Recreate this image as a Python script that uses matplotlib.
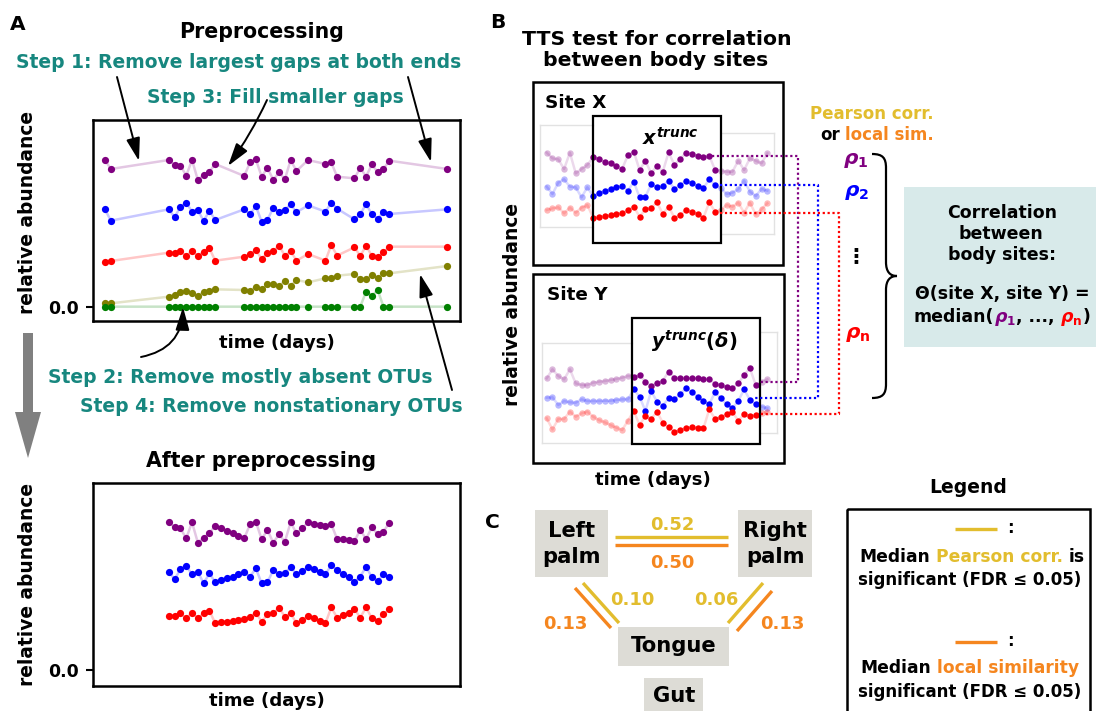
import numpy as np
import matplotlib
matplotlib.use('Agg')
import matplotlib.pyplot as plt
from matplotlib.patches import Rectangle, FancyArrow, PathPatch
from matplotlib.path import Path

plt.rcParams['font.family'] = ['DejaVu Sans']
plt.rcParams['font.weight'] = 'bold'
plt.rcParams['mathtext.fontset'] = 'custom'
plt.rcParams['mathtext.rm'] = 'DejaVu Sans:bold'
plt.rcParams['mathtext.it'] = 'DejaVu Sans:italic:bold'
plt.rcParams['mathtext.bf'] = 'DejaVu Sans:bold'

# ---- panel A: raw OTU time series (days with samples) ----
days_raw = [0, 1, 11, 12, 13, 14, 15, 16, 17, 18, 19, 24, 25, 26, 27, 28, 29, 30, 31, 32, 33,
            35, 38, 39, 40, 43, 44, 45, 46, 47, 48, 49, 59]
purple_raw = [4.40, 4.13, 4.40, 4.25, 4.23, 3.93, 4.40, 3.80, 3.95, 4.05, 4.28, 3.92, 4.33, 4.42, 3.90,
              4.17, 3.80, 4.03, 3.82, 4.40, 4.07, 4.40, 4.28, 4.33, 3.90, 3.85, 4.17, 3.90, 4.27, 4.03,
              4.13, 4.38, 4.13]
blue_raw = [2.92, 2.58, 2.92, 2.68, 3.00, 3.12, 2.85, 2.90, 2.57, 2.88, 2.60, 2.92, 2.77, 3.02, 2.55,
            2.60, 2.97, 2.85, 2.90, 3.07, 2.83, 3.04, 2.85, 3.12, 2.94, 2.62, 2.77, 3.08, 2.77, 2.63,
            2.85, 2.78, 2.92]
red_raw = [1.33, 1.37, 1.62, 1.60, 1.67, 1.52, 1.68, 1.52, 1.65, 1.75, 1.38, 1.50, 1.58, 1.70, 1.43,
           1.62, 1.67, 1.83, 1.53, 1.67, 1.38, 1.58, 1.38, 1.85, 1.53, 1.78, 1.52, 1.83, 1.52, 1.48,
           1.63, 1.80, 1.80]
olive_raw = [0.12, 0.10, 0.30, 0.35, 0.43, 0.47, 0.42, 0.32, 0.45, 0.47, 0.52, 0.50, 0.47, 0.60, 0.52,
             0.67, 0.68, 0.63, 0.77, 0.63, 0.80, 0.73, 0.85, 0.87, 0.93, 0.98, 0.82, 0.83, 0.95, 0.85,
             1.02, 1.00, 1.22]
green_raw = [0.0] * 27 + [0.45, 0.32, 0.50] + [0.0, 0.0, 0.0]

# after preprocessing: days 11..49, gaps filled
days_clean = list(range(11, 50))
purple_clean = [4.43, 4.28, 4.25, 3.95, 4.43, 3.82, 3.97, 4.10, 4.33, 4.25, 4.18, 4.10, 4.03, 3.95,
                4.37, 4.45, 3.92, 4.20, 3.82, 4.07, 3.85, 4.43, 4.10, 4.25, 4.43, 4.38, 4.35, 4.32,
                4.38, 3.93, 3.92, 3.90, 3.87, 4.20, 3.93, 4.28, 4.07, 4.15, 4.42]
blue_clean = [2.95, 2.72, 3.02, 3.12, 2.87, 2.95, 2.60, 2.90, 2.63, 2.70, 2.75, 2.80, 2.87, 2.95,
              2.80, 3.05, 2.60, 2.63, 3.00, 2.88, 2.92, 3.08, 2.87, 2.97, 3.08, 3.02, 2.95, 2.87,
              3.15, 3.00, 2.88, 2.78, 2.65, 2.80, 3.10, 2.78, 2.67, 2.87, 2.80]
red_clean = [1.63, 1.63, 1.70, 1.55, 1.72, 1.55, 1.70, 1.78, 1.40, 1.43, 1.45, 1.48, 1.50, 1.52,
             1.60, 1.72, 1.45, 1.67, 1.70, 1.87, 1.60, 1.70, 1.40, 1.50, 1.62, 1.55, 1.48, 1.40,
             1.88, 1.57, 1.65, 1.72, 1.83, 1.57, 1.88, 1.55, 1.48, 1.67, 1.83]

# ---- panel B: two body sites, 39 samples each ----
purple_x = [2.52, 2.35, 2.32, 2.03, 2.52, 1.90, 2.03, 2.15, 2.38, 2.32, 2.25, 2.20, 2.12, 2.03, 2.45,
            2.55, 2.00, 2.28, 1.90, 2.13, 1.95, 2.53, 2.15, 2.33, 2.52, 2.48, 2.43, 2.40, 2.43, 2.00,
            1.98, 1.95, 1.95, 2.28, 2.00, 2.35, 2.28, 2.20, 2.50]
blue_x = [1.50, 1.28, 1.62, 1.72, 1.50, 1.48, 1.18, 1.48, 1.22, 1.30, 1.38, 1.43, 1.48, 1.53, 1.38,
          1.65, 1.18, 1.20, 1.57, 1.48, 1.52, 1.68, 1.43, 1.55, 1.67, 1.60, 1.53, 1.45, 1.72, 1.55,
          1.45, 1.28, 1.32, 1.42, 1.68, 1.35, 1.22, 1.43, 1.38]
red_x = [0.80, 0.85, 0.88, 0.70, 0.87, 0.72, 0.87, 0.95, 0.57, 0.60, 0.62, 0.65, 0.67, 0.70, 0.80,
         0.90, 0.60, 0.82, 0.87, 1.03, 0.68, 0.90, 0.57, 0.65, 0.80, 0.75, 0.68, 0.57, 1.03, 0.75,
         0.80, 0.95, 0.90, 1.02, 0.72, 1.02, 0.67, 0.82, 1.00]
purple_y = [1.75, 2.02, 1.82, 1.72, 2.02, 1.60, 1.55, 1.55, 1.62, 1.65, 1.67, 1.70, 1.73, 1.77, 1.82,
            1.80, 1.85, 1.65, 1.53, 1.60, 1.68, 1.95, 1.77, 1.77, 1.75, 1.75, 1.75, 1.73, 1.73, 1.58,
            1.55, 1.50, 1.45, 1.60, 1.85, 2.05, 1.55, 1.65, 1.72]
blue_y = [1.17, 1.18, 0.95, 1.07, 1.03, 1.02, 1.12, 1.07, 1.07, 1.07, 1.08, 1.08, 1.10, 1.12, 1.12,
          1.42, 1.20, 0.77, 1.37, 1.05, 0.93, 1.15, 1.12, 1.28, 1.45, 1.33, 1.20, 1.07, 0.98, 1.33,
          1.15, 0.97, 0.85, 1.07, 1.42, 1.10, 0.98, 0.90, 0.85]
red_y = [0.55, 0.22, 0.53, 0.53, 0.75, 0.60, 0.70, 0.75, 0.60, 0.50, 0.43, 0.35, 0.27, 0.20, 0.48,
         0.77, 0.35, 0.62, 0.53, 0.75, 0.42, 0.28, 0.15, 0.20, 0.27, 0.28, 0.27, 0.25, 0.82, 0.53,
         0.60, 0.68, 0.75, 0.47, 0.68, 0.63, 0.65, 0.70, 0.75]
win_x = (8, 29)
win_y = (15, 36)

# ---- panel C: median correlations between body sites ----
pearson_vals = {'palms': '0.52', 'left_tongue': '0.10', 'right_tongue': '0.06'}
localsim_vals = {'palms': '0.50', 'left_tongue': '0.13', 'right_tongue': '0.13'}

PURPLE, BLUE, RED = '#800080', '#0000ff', '#ff0000'
OLIVE, GREEN = '#808000', '#008000'
TEAL = '#17877f'
YELLOW, ORANGE = '#e2bd2e', '#f5861f'
BOXGRAY = '#dddcd6'

W, H = 1096, 711
fig = plt.figure(figsize=(W / 100, H / 100), dpi=100)


def px_axes(x0, y0, x1, y1):
    return fig.add_axes([x0 / W, 1 - y1 / H, (x1 - x0) / W, (y1 - y0) / H])


def draw_series(ax, t, v, color, ms=5.2):
    ax.plot(t, v, '-', color=color, alpha=0.22, lw=1.8, zorder=1)
    ax.plot(t, v, 'o', color=color, ms=ms, mec='none', zorder=2)


def style_abundance(ax, ylim):
    ax.set_xlim(-2.07, 61.19)
    ax.set_ylim(*ylim)
    ax.set_xticks([])
    ax.set_yticks([0])
    ax.set_yticklabels(['0.0'])
    ax.tick_params(axis='y', length=5, width=1.5, labelsize=12.5, pad=5)
    for s in ax.spines.values():
        s.set_linewidth(1.8)


# preprocessing plot
ax1 = px_axes(93, 120, 460, 321)
for v, c in [(purple_raw, PURPLE), (blue_raw, BLUE), (red_raw, RED), (olive_raw, OLIVE), (green_raw, GREEN)]:
    draw_series(ax1, days_raw, v, c)
style_abundance(ax1, (-0.43, 5.6))

# after preprocessing plot
ax2 = px_axes(93, 483, 460, 686)
for v, c in [(purple_clean, PURPLE), (blue_clean, BLUE), (red_clean, RED)]:
    draw_series(ax2, days_clean, v, c)
style_abundance(ax2, (-0.48, 5.61))


def draw_site(ax, series, win, ylim):
    lo, hi = win
    for v, c in series:
        v = np.asarray(v)
        t = np.arange(len(v))
        inside = (t >= lo) & (t <= hi)
        ax.plot(t, v, '-', color=c, alpha=0.15, lw=1.8, zorder=1)
        ax.plot(t[~inside], v[~inside], 'o', color=c, alpha=0.28, ms=4.6, mec='none', zorder=2)
        ax.plot(t[inside], v[inside], 'o', color=c, ms=4.6, mec='none', zorder=3)
    ax.set_xlim(-1.15, 39.15)
    ax.set_ylim(*ylim)
    ax.axis('off')


axX = px_axes(540, 125, 774, 234)
draw_site(axX, [(purple_x, PURPLE), (blue_x, BLUE), (red_x, RED)], win_x, (0.08, 3.35))
axY = px_axes(540, 332, 774, 443)
draw_site(axY, [(purple_y, PURPLE), (blue_y, BLUE), (red_y, RED)], win_y, (-0.19, 3.14))

# overlay in pixel units for the diagram parts
cv = fig.add_axes([0, 0, 1, 1])
cv.set_xlim(0, W)
cv.set_ylim(H, 0)
cv.axis('off')
renderer = fig.canvas.get_renderer()


def put(x, y, s, size, color='black', ha='center', va='baseline', **kw):
    return cv.text(x, y, s, fontsize=size, color=color, ha=ha, va=va, fontweight='bold', **kw)


def text_width(s, size):
    t = cv.text(0, 0, s, fontsize=size, fontweight='bold')
    w = t.get_window_extent(renderer).width
    t.remove()
    return w


def rich(x, y, parts, size):
    sp = text_width('a a', size) - text_width('aa', size)
    widths = []
    for s, c in parts:
        core = s.strip(' ')
        widths.append(text_width(core, size) + (len(s) - len(core)) * sp)
    cur = x - sum(widths) / 2
    for (s, c), w in zip(parts, widths):
        lead = len(s) - len(s.lstrip(' '))
        put(cur + lead * sp, y, s.strip(' '), size, color=c, ha='left')
        cur += w


def seg(x0, y0, x1, y1, **kw):
    cv.plot([x0, x1], [y0, y1], **kw)


def arrow(x0, y0, x1, y1, rad=0.0):
    cv.annotate('', xy=(x1, y1), xytext=(x0, y0),
                arrowprops=dict(arrowstyle='-|>,head_length=1.0,head_width=0.3', color='black',
                                lw=1.4, shrinkA=0, shrinkB=0, mutation_scale=14,
                                connectionstyle=f'arc3,rad={rad}'))


# ---- panel A texts and arrows ----
put(10, 30, 'A', 14.5, ha='left')
put(262, 38, 'Preprocessing', 14.8)
put(239, 68, 'Step 1: Remove largest gaps at both ends', 13.5, color=TEAL)
put(275, 103, 'Step 3: Fill smaller gaps', 13.5, color=TEAL)
put(277, 348, 'time (days)', 13.1)
put(240, 383, 'Step 2: Remove mostly absent OTUs', 13.5, color=TEAL)
put(271, 412, 'Step 4: Remove nonstationary OTUs', 13.5, color=TEAL)
put(261, 467, 'After preprocessing', 14.8)
put(267, 706, 'time (days)', 13.1)
put(28, 212, 'relative abundance', 13.4, va='center', rotation=90)
put(28, 585, 'relative abundance', 13.4, va='center', rotation=90)

arrow(117, 77, 139, 161)
arrow(408, 77, 431, 162)
arrow(267, 100, 228, 166, rad=-0.05)
arrow(141, 357, 183, 307, rad=0.4)
arrow(452, 390, 420, 274)

cv.add_patch(FancyArrow(28, 333, 0, 125, width=10, head_width=26, head_length=46,
                        length_includes_head=True, color='#808080', lw=0))

# ---- panel B ----
put(490, 28, 'B', 14.5, ha='left')
put(657, 45, 'TTS test for correlation', 14.7)
put(656, 66, 'between body sites', 14.7)
put(512, 305, 'relative abundance', 13.4, va='center', rotation=90)
put(653, 485, 'time (days)', 13.1)

# faint frames of the full series
faint = dict(color='#e2e2e2', lw=1.0, zorder=0)
for (x0, y0, x1, y1) in [(540, 125, 593, 227), (542, 343, 632, 443)]:
    seg(x0, y0, x1, y0, **faint)
    seg(x0, y1, x1, y1, **faint)
    seg(x0, y0, x0, y1, **faint)
for (x0, y0, x1, y1) in [(721, 133, 774, 234), (760, 332, 777, 433)]:
    seg(x0, y0, x1, y0, **faint)
    seg(x0, y1, x1, y1, **faint)
    seg(x1, y0, x1, y1, **faint)

cv.add_patch(Rectangle((533, 82), 250, 183, fill=False, lw=1.8, ec='black'))
cv.add_patch(Rectangle((593, 116), 128, 127, fill=False, lw=1.6, ec='black'))
cv.add_patch(Rectangle((533, 274), 251, 189, fill=False, lw=1.8, ec='black'))
cv.add_patch(Rectangle((632, 318), 128, 126, fill=False, lw=1.6, ec='black'))
put(545, 108, 'Site X', 13.2, ha='left')
put(547, 300, 'Site Y', 13.2, ha='left')
put(670, 145, r'$x^{trunc}$', 14)
put(694, 348, r'$y^{trunc}(\delta)$', 14)

# dotted links from the truncated windows to the correlations
dot = dict(ls=(0, (1, 1.2)), lw=1.6)
for (xa, ya, xv, yb, xb, c) in [(712, 156, 798, 382, 760, PURPLE),
                                 (720, 185, 818, 398, 753, BLUE),
                                 (720, 213, 839, 414, 760, RED)]:
    cv.plot([xa, xv, xv, xb], [ya, ya, yb, yb], color=c, **dot)

put(872, 119, 'Pearson corr.', 12, color=YELLOW)
rich(877, 140, [('or ', 'black'), ('local sim.', ORANGE)], 12)
put(856, 160, r'$\rho_1$', 14.5, color=PURPLE, va='center')
put(857, 193, r'$\rho_2$', 14.5, color=BLUE, va='center')
cv.text(856, 256, '\u22ee', fontsize=15, ha='center', va='center')
put(858, 334, r'$\rho_\mathrm{n}$', 14.5, color=RED, va='center')

# curly brace
x0, xm, xt, y0, y1, ym, r = 872, 886, 897, 154, 398, 276, 14
verts = [(x0, y0), (xm - 3, y0), (xm, y0 + r * 0.3), (xm, y0 + r),
         (xm, ym - r),
         (xm, ym - r * 0.3), (xm + 4, ym), (xt, ym),
         (xm + 4, ym), (xm, ym + r * 0.3), (xm, ym + r),
         (xm, y1 - r),
         (xm, y1 - r * 0.3), (xm - 3, y1), (x0, y1)]
codes = [Path.MOVETO, Path.CURVE4, Path.CURVE4, Path.CURVE4, Path.LINETO,
         Path.CURVE4, Path.CURVE4, Path.CURVE4, Path.CURVE4, Path.CURVE4, Path.CURVE4,
         Path.LINETO, Path.CURVE4, Path.CURVE4, Path.CURVE4]
cv.add_patch(PathPatch(Path(verts, codes), fill=False, lw=1.6, ec='black'))

cv.add_patch(Rectangle((904, 187), 200, 160, fc='#d8eaea', ec='none'))
put(1002, 218, 'Correlation', 12.5)
put(1001, 239, 'between', 12.5)
put(1002, 260, 'body sites:', 12.5)
put(1002, 299, '\u0398(site X, site Y) =', 12.5)
rich(1002, 322, [('median(', 'black'), (r'$\rho_1$', PURPLE), (', ..., ', 'black'),
                 (r'$\rho_\mathrm{n}$', RED), (')', 'black')], 12.5)

# ---- panel C ----
put(485, 528, 'C', 14.5, ha='left')
for (bx0, by0, bx1, by1) in [(535, 510, 608, 577), (738, 510, 812, 577), (618, 627, 729, 666), (644, 678, 703, 730)]:
    cv.add_patch(Rectangle((bx0, by0), bx1 - bx0, by1 - by0, fc=BOXGRAY, ec='none'))
put(571.5, 537, 'Left', 15.2)
put(571.5, 563, 'palm', 15.2)
put(775, 537, 'Right', 15.2)
put(775, 563, 'palm', 15.2)
put(674, 652, 'Tongue', 15.2)
put(674, 702, 'Gut', 15.2)

lk = dict(lw=2.4, solid_capstyle='butt')
seg(615, 537, 728, 537, color=YELLOW, **lk)
seg(615, 544.5, 728, 544.5, color=ORANGE, **lk)
seg(583, 583, 619, 623, color=YELLOW, **lk)
seg(575, 588, 611, 628, color=ORANGE, **lk)
seg(763, 583, 728, 623, color=YELLOW, **lk)
seg(772, 591, 737, 631, color=ORANGE, **lk)
put(672, 530, pearson_vals['palms'], 13, color=YELLOW)
put(672, 568, localsim_vals['palms'], 13, color=ORANGE)
put(632, 605, pearson_vals['left_tongue'], 13, color=YELLOW)
put(565, 629, localsim_vals['left_tongue'], 13, color=ORANGE)
put(716, 605, pearson_vals['right_tongue'], 13, color=YELLOW)
put(782, 629, localsim_vals['right_tongue'], 13, color=ORANGE)

# legend
put(968, 493, 'Legend', 13.5)
cv.add_patch(Rectangle((847, 509), 243, 240, fill=False, lw=1.8, ec='black'))
seg(955, 529, 997, 529, color=YELLOW, **lk)
put(1010, 533, ':', 12)
rich(972, 562, [('Median ', 'black'), ('Pearson corr.', YELLOW), (' is', 'black')], 12.3)
put(970, 585, 'significant (FDR \u2264 0.05)', 12)
seg(955, 642, 997, 642, color=ORANGE, **lk)
put(1010, 646, ':', 12)
rich(970, 673, [('Median ', 'black'), ('local similarity', ORANGE)], 12.3)
put(970, 697, 'significant (FDR \u2264 0.05)', 12)

fig.savefig('out.png', dpi=100)
